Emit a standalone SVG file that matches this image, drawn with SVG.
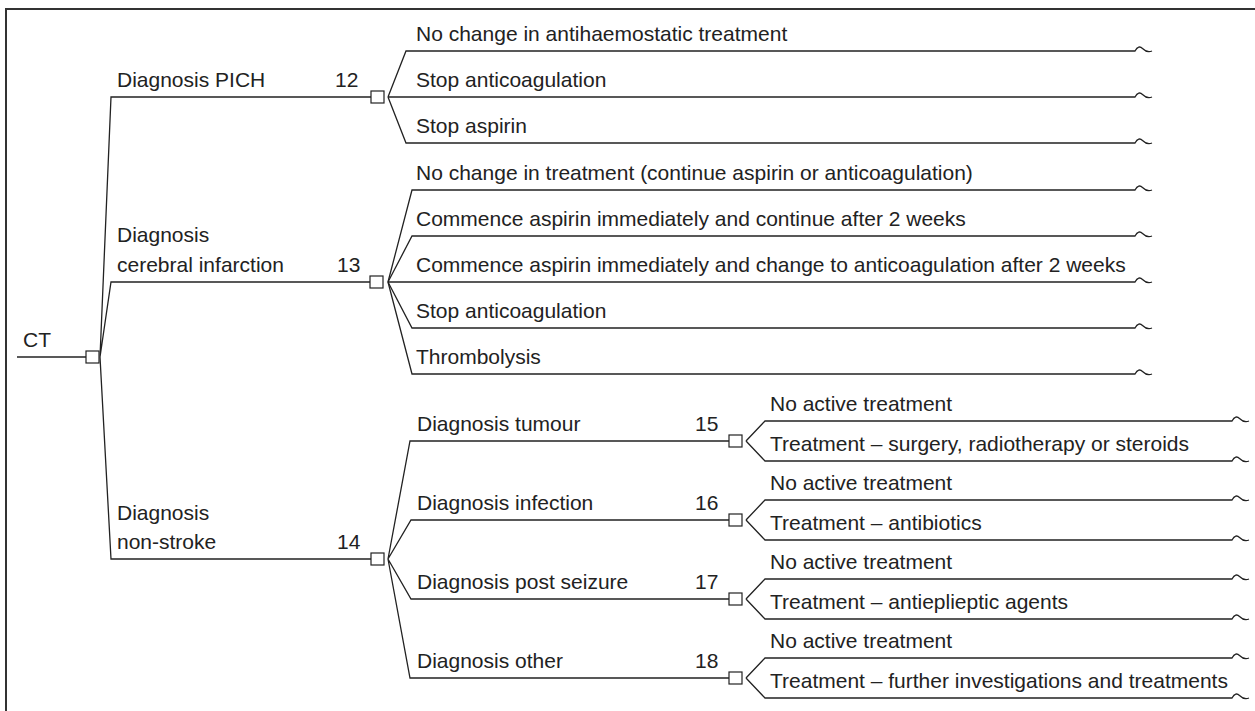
<svg xmlns="http://www.w3.org/2000/svg" width="1255" height="711" viewBox="0 0 1255 711">
<style>
  text { font-family: "Liberation Sans", Arial, sans-serif; font-size: 21px; fill: #222; }
  .ln { fill: none; stroke: #222; stroke-width: 1.3; }
  .sq { fill: #fff; stroke: #222; stroke-width: 1.2; }
  .frame { fill: none; stroke: #333; stroke-width: 2; }
</style>
<defs>
  <rect id="box" x="-6.5" y="-6" width="13" height="12" class="sq"/>
</defs>
<rect class="frame" x="6" y="9" width="1270" height="720"/>

<g id="connectors">
  <!-- CT root -->
  <path class="ln" d="M17,357 H86"/>
  <path class="ln" d="M100,357 L111,97 H371 M100,357 L111,282 H370 M100,357 L111,559 H371"/>
  <!-- PICH fan -->
  <path class="ln" d="M388,97 L406,51 H1135 c2.5,-4.5 5,-5 7.5,-2.5 c2.5,2.5 5,4.5 9.5,2.5"/>
  <path class="ln" d="M388,97 H1135 c2.5,-4.5 5,-5 7.5,-2.5 c2.5,2.5 5,4.5 9.5,2.5"/>
  <path class="ln" d="M388,97 L406,143 H1135 c2.5,-4.5 5,-5 7.5,-2.5 c2.5,2.5 5,4.5 9.5,2.5"/>
  <!-- Cerebral infarction fan -->
  <path class="ln" d="M388,282 L412,190 H1135 c2.5,-4.5 5,-5 7.5,-2.5 c2.5,2.5 5,4.5 9.5,2.5"/>
  <path class="ln" d="M388,282 L412,236 H1135 c2.5,-4.5 5,-5 7.5,-2.5 c2.5,2.5 5,4.5 9.5,2.5"/>
  <path class="ln" d="M388,282 H1135 c2.5,-4.5 5,-5 7.5,-2.5 c2.5,2.5 5,4.5 9.5,2.5"/>
  <path class="ln" d="M388,282 L412,328 H1135 c2.5,-4.5 5,-5 7.5,-2.5 c2.5,2.5 5,4.5 9.5,2.5"/>
  <path class="ln" d="M388,282 L412,374 H1135 c2.5,-4.5 5,-5 7.5,-2.5 c2.5,2.5 5,4.5 9.5,2.5"/>
  <!-- Non-stroke fan -->
  <path class="ln" d="M388,559 L410,441 H729 M388,559 L411,520 H729 M388,559 L411,599 H729 M388,559 L410,678 H729"/>
  <!-- Sub fans -->
  <path class="ln" d="M746,441 L765,421 H1232 c2.5,-4.5 5,-5 7.5,-2.5 c2.5,2.5 5,4.5 9.5,2.5 M746,441 L765,461 H1232 c2.5,-4.5 5,-5 7.5,-2.5 c2.5,2.5 5,4.5 9.5,2.5"/>
  <path class="ln" d="M746,520 L765,500 H1232 c2.5,-4.5 5,-5 7.5,-2.5 c2.5,2.5 5,4.5 9.5,2.5 M746,520 L765,540 H1232 c2.5,-4.5 5,-5 7.5,-2.5 c2.5,2.5 5,4.5 9.5,2.5"/>
  <path class="ln" d="M746,599 L765,579 H1232 c2.5,-4.5 5,-5 7.5,-2.5 c2.5,2.5 5,4.5 9.5,2.5 M746,599 L765,619 H1232 c2.5,-4.5 5,-5 7.5,-2.5 c2.5,2.5 5,4.5 9.5,2.5"/>
  <path class="ln" d="M746,678 L765,658 H1232 c2.5,-4.5 5,-5 7.5,-2.5 c2.5,2.5 5,4.5 9.5,2.5 M746,678 L765,698 H1232 c2.5,-4.5 5,-5 7.5,-2.5 c2.5,2.5 5,4.5 9.5,2.5"/>
</g>

<g id="node-ct">
  <text x="23" y="347">CT</text>
  <use href="#box" x="92.5" y="357"/>
</g>

<g id="node-12">
  <text x="117" y="87">Diagnosis PICH</text>
  <text x="335" y="87">12</text>
  <use href="#box" x="377.5" y="97"/>
  <text x="416" y="41">No change in antihaemostatic treatment</text>
  <text x="416" y="87">Stop anticoagulation</text>
  <text x="416" y="133">Stop aspirin</text>
</g>

<g id="node-13">
  <text x="117" y="242">Diagnosis</text>
  <text x="117" y="272">cerebral infarction</text>
  <text x="337" y="272">13</text>
  <use href="#box" x="376.5" y="282"/>
  <text x="416" y="180">No change in treatment (continue aspirin or anticoagulation)</text>
  <text x="416" y="226">Commence aspirin immediately and continue after 2 weeks</text>
  <text x="416" y="272">Commence aspirin immediately and change to anticoagulation after 2 weeks</text>
  <text x="416" y="318">Stop anticoagulation</text>
  <text x="416" y="364">Thrombolysis</text>
</g>

<g id="node-14">
  <text x="117" y="520">Diagnosis</text>
  <text x="117" y="549">non-stroke</text>
  <text x="337" y="549">14</text>
  <use href="#box" x="377.5" y="559"/>
</g>

<g id="node-15">
  <text x="417" y="431">Diagnosis tumour</text>
  <text x="695" y="431">15</text>
  <use href="#box" x="735.5" y="441"/>
  <text x="770" y="411">No active treatment</text>
  <text x="770" y="451">Treatment – surgery, radiotherapy or steroids</text>
</g>

<g id="node-16">
  <text x="417" y="510">Diagnosis infection</text>
  <text x="695" y="510">16</text>
  <use href="#box" x="735.5" y="520"/>
  <text x="770" y="490">No active treatment</text>
  <text x="770" y="530">Treatment – antibiotics</text>
</g>

<g id="node-17">
  <text x="417" y="589">Diagnosis post seizure</text>
  <text x="695" y="589">17</text>
  <use href="#box" x="735.5" y="599"/>
  <text x="770" y="569">No active treatment</text>
  <text x="770" y="609">Treatment – antieplieptic agents</text>
</g>

<g id="node-18">
  <text x="417" y="668">Diagnosis other</text>
  <text x="695" y="668">18</text>
  <use href="#box" x="735.5" y="678"/>
  <text x="770" y="648">No active treatment</text>
  <text x="770" y="688">Treatment – further investigations and treatments</text>
</g>
</svg>
